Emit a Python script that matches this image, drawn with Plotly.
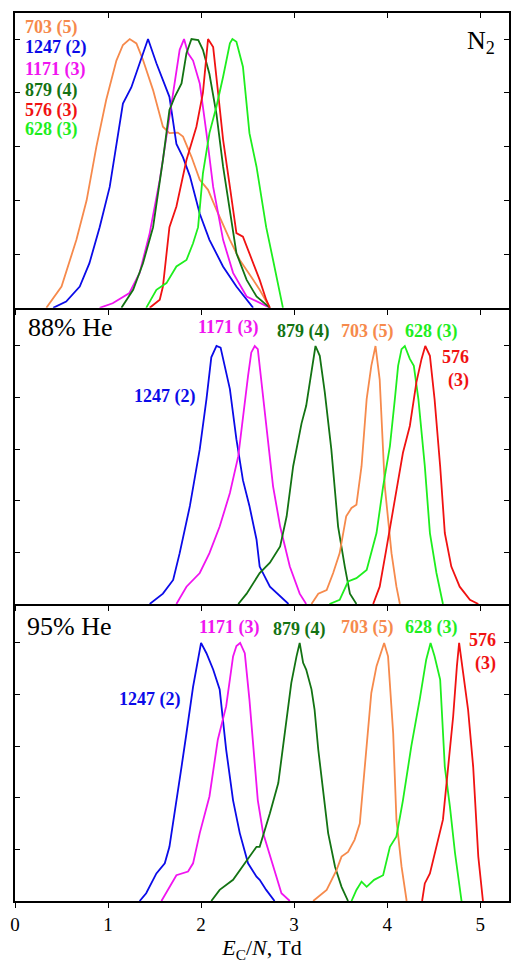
import plotly.graph_objects as go

# ---------------- data (E_C/N in Td, normalized intensity) ----------------
# Top panel: N2
n2_703_x = [0.337, 0.50, 0.66, 0.77, 0.875, 0.98, 1.09, 1.16, 1.233, 1.305, 1.376, 1.484, 1.59, 1.66, 1.75, 1.806, 1.897, 1.986, 2.075, 2.166, 2.31, 2.416, 2.56, 2.63, 2.74]
n2_703_y = [0.0, 0.079, 0.253, 0.40, 0.60, 0.773, 0.92, 0.978, 1.0, 0.984, 0.922, 0.81, 0.674, 0.65, 0.652, 0.637, 0.562, 0.476, 0.439, 0.364, 0.253, 0.178, 0.104, 0.067, 0.0]
n2_1247_x = [0.41, 0.55, 0.696, 0.80, 0.91, 1.018, 1.16, 1.25, 1.34, 1.43, 1.52, 1.59, 1.66, 1.735, 1.806, 1.88, 1.986, 2.09, 2.236, 2.38, 2.52, 2.56]
n2_1247_y = [0.0, 0.023, 0.079, 0.166, 0.30, 0.45, 0.76, 0.82, 0.91, 1.0, 0.91, 0.85, 0.785, 0.61, 0.56, 0.49, 0.35, 0.253, 0.154, 0.079, 0.017, 0.0]
n2_1171_x = [0.91, 1.05, 1.23, 1.34, 1.448, 1.556, 1.70, 1.77, 1.817, 1.86, 1.914, 1.986, 2.058, 2.13, 2.237, 2.344, 2.49, 2.63, 2.74]
n2_1171_y = [0.0, 0.017, 0.055, 0.13, 0.278, 0.476, 0.80, 0.96, 1.0, 0.947, 0.92, 0.835, 0.65, 0.45, 0.253, 0.13, 0.042, 0.017, 0.0]
n2_879_x = [1.144, 1.27, 1.376, 1.484, 1.59, 1.66, 1.717, 1.79, 1.843, 1.897, 1.97, 2.02, 2.09, 2.166, 2.237, 2.31, 2.38, 2.49, 2.596, 2.74]
n2_879_y = [0.0, 0.067, 0.166, 0.30, 0.55, 0.736, 0.785, 0.835, 0.947, 1.0, 0.996, 0.96, 0.87, 0.72, 0.525, 0.352, 0.203, 0.104, 0.042, 0.0]
n2_576_x = [1.448, 1.556, 1.59, 1.66, 1.735, 1.843, 1.95, 2.02, 2.075, 2.13, 2.18, 2.237, 2.31, 2.38, 2.45, 2.52, 2.596, 2.63, 2.70, 2.74]
n2_576_y = [0.0, 0.03, 0.079, 0.30, 0.377, 0.55, 0.674, 0.80, 1.0, 0.97, 0.81, 0.625, 0.45, 0.278, 0.265, 0.203, 0.13, 0.104, 0.03, 0.0]
n2_628_x = [1.41, 1.52, 1.628, 1.735, 1.843, 1.914, 1.968, 2.02, 2.09, 2.166, 2.237, 2.31, 2.337, 2.38, 2.45, 2.52, 2.596, 2.63, 2.70, 2.774, 2.85, 2.88]
n2_628_y = [0.0, 0.067, 0.092, 0.154, 0.178, 0.24, 0.30, 0.50, 0.65, 0.75, 0.86, 0.984, 1.0, 0.99, 0.897, 0.65, 0.525, 0.45, 0.30, 0.178, 0.055, 0.0]

# Middle panel: 88% He
he88_1247_x = [1.448, 1.59, 1.70, 1.77, 1.88, 1.986, 2.058, 2.11, 2.166, 2.21, 2.31, 2.38, 2.45, 2.52, 2.596, 2.63, 2.74, 2.85, 2.94]
he88_1247_y = [0.0, 0.04, 0.093, 0.197, 0.38, 0.60, 0.794, 0.956, 1.0, 0.994, 0.833, 0.638, 0.48, 0.38, 0.25, 0.145, 0.067, 0.028, 0.0]
he88_1171_x = [1.735, 1.843, 1.986, 2.09, 2.20, 2.31, 2.40, 2.45, 2.505, 2.54, 2.577, 2.61, 2.65, 2.70, 2.774, 2.85, 2.954, 3.06, 3.13]
he88_1171_y = [0.0, 0.067, 0.12, 0.197, 0.30, 0.43, 0.573, 0.73, 0.884, 0.975, 1.0, 0.988, 0.86, 0.69, 0.456, 0.30, 0.145, 0.04, 0.0]
he88_879_x = [2.40, 2.49, 2.63, 2.74, 2.85, 2.92, 2.99, 3.08, 3.13, 3.187, 3.23, 3.276, 3.33, 3.40, 3.473, 3.545, 3.60, 3.67]
he88_879_y = [0.0, 0.04, 0.12, 0.16, 0.223, 0.34, 0.534, 0.70, 0.768, 0.898, 1.0, 0.962, 0.82, 0.60, 0.30, 0.145, 0.04, 0.0]
he88_703_x = [3.187, 3.26, 3.35, 3.42, 3.49, 3.56, 3.617, 3.67, 3.725, 3.78, 3.83, 3.875, 3.92, 3.975, 4.047, 4.10, 4.137]
he88_703_y = [0.0, 0.04, 0.054, 0.12, 0.197, 0.34, 0.372, 0.385, 0.534, 0.794, 0.923, 1.0, 0.87, 0.456, 0.197, 0.067, 0.0]
he88_628_x = [3.38, 3.49, 3.58, 3.67, 3.78, 3.886, 3.957, 4.03, 4.083, 4.118, 4.155, 4.19, 4.244, 4.287, 4.336, 4.405, 4.46, 4.53, 4.60]
he88_628_y = [0.0, 0.016, 0.087, 0.10, 0.132, 0.275, 0.456, 0.612, 0.794, 0.923, 0.988, 1.0, 0.95, 0.923, 0.794, 0.534, 0.275, 0.12, 0.0]
he88_576_x = [3.85, 3.92, 3.99, 4.083, 4.17, 4.244, 4.315, 4.37, 4.41, 4.46, 4.51, 4.57, 4.62, 4.69, 4.78, 4.89, 4.98]
he88_576_y = [0.0, 0.067, 0.21, 0.405, 0.586, 0.69, 0.86, 0.95, 1.0, 0.962, 0.794, 0.534, 0.275, 0.145, 0.067, 0.016, 0.0]

# Bottom panel: 95% He
he95_1247_x = [1.34, 1.41, 1.52, 1.61, 1.66, 1.717, 1.79, 1.843, 1.914, 2.0, 2.058, 2.13, 2.20, 2.27, 2.344, 2.416, 2.505, 2.596, 2.63, 2.70, 2.79]
he95_1247_y = [0.0, 0.03, 0.107, 0.146, 0.21, 0.34, 0.52, 0.65, 0.83, 1.0, 0.96, 0.897, 0.82, 0.586, 0.39, 0.263, 0.146, 0.094, 0.082, 0.043, 0.0]
he95_1171_x = [1.574, 1.66, 1.735, 1.86, 1.914, 1.986, 2.09, 2.18, 2.27, 2.344, 2.38, 2.42, 2.47, 2.52, 2.577, 2.61, 2.667, 2.774, 2.864, 2.954]
he95_1171_y = [0.0, 0.055, 0.10, 0.114, 0.146, 0.263, 0.405, 0.625, 0.755, 0.948, 0.988, 1.0, 0.96, 0.78, 0.52, 0.39, 0.263, 0.133, 0.03, 0.0]
he95_879_x = [2.11, 2.20, 2.344, 2.47, 2.596, 2.63, 2.74, 2.83, 2.90, 2.97, 3.026, 3.06, 3.097, 3.13, 3.187, 3.22, 3.26, 3.31, 3.366, 3.44, 3.51, 3.58]
he95_879_y = [0.0, 0.043, 0.082, 0.146, 0.21, 0.21, 0.34, 0.457, 0.65, 0.845, 0.948, 1.0, 0.923, 0.897, 0.82, 0.742, 0.586, 0.43, 0.263, 0.133, 0.055, 0.0]
he95_703_x = [3.205, 3.35, 3.456, 3.51, 3.58, 3.65, 3.706, 3.76, 3.83, 3.886, 3.93, 3.968, 4.01, 4.065, 4.10, 4.155, 4.21]
he95_703_y = [0.0, 0.043, 0.12, 0.172, 0.19, 0.237, 0.30, 0.52, 0.806, 0.91, 0.96, 1.0, 0.948, 0.65, 0.315, 0.133, 0.0]
he95_628_x = [3.617, 3.67, 3.725, 3.78, 3.86, 3.957, 4.03, 4.10, 4.17, 4.26, 4.35, 4.42, 4.467, 4.51, 4.57, 4.62, 4.675, 4.73, 4.80]
he95_628_y = [0.0, 0.043, 0.075, 0.055, 0.082, 0.10, 0.21, 0.25, 0.39, 0.60, 0.78, 0.935, 1.0, 0.948, 0.858, 0.52, 0.366, 0.185, 0.0]
he95_576_x = [4.376, 4.405, 4.46, 4.53, 4.60, 4.656, 4.71, 4.75, 4.774, 4.817, 4.87, 4.925, 4.98, 5.03]
he95_576_y = [0.0, 0.068, 0.107, 0.21, 0.315, 0.52, 0.716, 0.91, 1.0, 0.884, 0.742, 0.52, 0.172, 0.0]

line_names = ["703 (5)", "1247 (2)", "1171 (3)", "879 (4)", "576 (3)", "628 (3)"]
x_ticks = [0, 1, 2, 3, 4, 5]
y_ticks = [0, 0.2, 0.4, 0.6, 0.8, 1.0]
panel_names = ["N<sub>2</sub>", "88% He", "95% He"]

# ---------------- styling ----------------
COL = {
    "703": "#F68A4C",
    "1247": "#0B0BE8",
    "1171": "#F014F0",
    "879": "#137313",
    "576": "#F01212",
    "628": "#1EEE1E",
}
FONT = "Liberation Serif, Times New Roman, serif"
LW = 1.8

fig = go.Figure()

panels = [
    ("y3", "x3", [("703", n2_703_x, n2_703_y), ("1247", n2_1247_x, n2_1247_y), ("1171", n2_1171_x, n2_1171_y),
                  ("879", n2_879_x, n2_879_y), ("576", n2_576_x, n2_576_y), ("628", n2_628_x, n2_628_y)]),
    ("y2", "x2", [("1247", he88_1247_x, he88_1247_y), ("1171", he88_1171_x, he88_1171_y), ("879", he88_879_x, he88_879_y),
                  ("703", he88_703_x, he88_703_y), ("628", he88_628_x, he88_628_y), ("576", he88_576_x, he88_576_y)]),
    ("y", "x", [("1247", he95_1247_x, he95_1247_y), ("1171", he95_1171_x, he95_1171_y), ("879", he95_879_x, he95_879_y),
                ("703", he95_703_x, he95_703_y), ("628", he95_628_x, he95_628_y), ("576", he95_576_x, he95_576_y)]),
]
for ya, xa, series in panels:
    for key, xs, ys in series:
        fig.add_trace(go.Scatter(x=xs, y=ys, mode="lines", xaxis=xa, yaxis=ya,
                                 line=dict(color=COL[key], width=LW), showlegend=False,
                                 hoverinfo="skip"))

XR = [0, 5.31]
common_x = dict(range=XR, tickvals=x_ticks, showgrid=False, zeroline=False,
                showline=True, linecolor="black", linewidth=1.5,
                ticks="outside", ticklen=5, tickcolor="black", tickwidth=1.3)
common_y = dict(tickvals=y_ticks, showgrid=False, zeroline=False,
                showline=True, linecolor="black", linewidth=1.5, mirror="ticks",
                ticks="inside", ticklen=5, tickcolor="black", tickwidth=1.3,
                showticklabels=False)

d1 = [0.0, 0.3345]
d2 = [0.3345, 0.668]
d3 = [0.668, 1.0]

# page body has an 8px margin: figure is sized so page fits 521x978
fig.update_layout(
    width=505, height=962,
    margin=dict(l=7, r=4, t=5, b=69, autoexpand=False),
    paper_bgcolor="white", plot_bgcolor="white",
    font=dict(family=FONT, color="black"),
    xaxis=dict(common_x, anchor="y", showticklabels=True,
               tickfont=dict(size=19, family=FONT),
               title=dict(text="<i>E</i><sub>C</sub>/<i>N</i>, Td", font=dict(size=22, family=FONT), standoff=6)),
    xaxis2=dict(common_x, anchor="y2", matches="x", showticklabels=False),
    xaxis3=dict(common_x, anchor="y3", matches="x", showticklabels=False, mirror=True),
    xaxis4=dict(range=XR, tickvals=x_ticks, overlaying="x3", side="top", anchor="y3",
                showline=False, showgrid=False, zeroline=False, showticklabels=False,
                ticks="inside", ticklen=5, tickcolor="black", tickwidth=1.3),
    yaxis=dict(common_y, domain=d1, range=[0, 1.151], anchor="x"),
    yaxis2=dict(common_y, domain=d2, range=[0, 1.148], anchor="x2"),
    yaxis3=dict(common_y, domain=d3, range=[0, 1.097], anchor="x3"),
)
# invisible trace to activate xaxis4 (top ticks of the upper panel)
fig.add_trace(go.Scatter(x=[None], y=[None], xaxis="x4", yaxis="y3", showlegend=False, hoverinfo="skip"))

ann = []
LBL = 18
# top panel stacked labels
top_keys = ["703", "1247", "1171", "879", "576", "628"]
top_y = [1.042, 0.968, 0.888, 0.810, 0.736, 0.662]
for k, name, yy in zip(top_keys, line_names, top_y):
    ann.append(dict(x=0.083, y=yy, xref="x3", yref="y3", text="<b>%s</b>" % name, showarrow=False,
                    xanchor="left", yanchor="middle", font=dict(size=LBL, color=COL[k], family=FONT)))
ann.append(dict(x=5.18, y=0.99, xref="x3", yref="y3", text=panel_names[0], showarrow=False,
                xanchor="right", yanchor="middle", font=dict(size=26, color="black", family=FONT)))

# middle panel
ann.append(dict(x=0.115, y=1.07, xref="x2", yref="y2", text=panel_names[1], showarrow=False,
                xanchor="left", yanchor="middle", font=dict(size=26, color="black", family=FONT)))
mid = [("1171", "1171 (3)", 2.30, 1.07), ("1247", "1247 (2)", 1.61, 0.805), ("879", "879 (4)", 3.10, 1.058),
       ("703", "703 (5)", 3.79, 1.058), ("628", "628 (3)", 4.48, 1.058)]
for k, t, xx, yy in mid:
    ann.append(dict(x=xx, y=yy, xref="x2", yref="y2", text="<b>%s</b>" % t, showarrow=False,
                    xanchor="center", yanchor="middle", font=dict(size=LBL, color=COL[k], family=FONT)))
ann.append(dict(x=4.90, y=0.912, xref="x2", yref="y2", text="<b>576</b><br><b>(3)</b>", showarrow=False,
                xanchor="right", yanchor="middle", align="right", font=dict(size=LBL, color=COL["576"], family=FONT)))

# bottom panel
ann.append(dict(x=0.104, y=1.064, xref="x", yref="y", text=panel_names[2], showarrow=False,
                xanchor="left", yanchor="middle", font=dict(size=26, color="black", family=FONT)))
bot = [("1171", "1171 (3)", 2.31, 1.06), ("1247", "1247 (2)", 1.45, 0.78), ("879", "879 (4)", 3.06, 1.052),
       ("703", "703 (5)", 3.79, 1.06), ("628", "628 (3)", 4.48, 1.06)]
for k, t, xx, yy in bot:
    ann.append(dict(x=xx, y=yy, xref="x", yref="y", text="<b>%s</b>" % t, showarrow=False,
                    xanchor="center", yanchor="middle", font=dict(size=LBL, color=COL[k], family=FONT)))
ann.append(dict(x=5.19, y=0.965, xref="x", yref="y", text="<b>576</b><br><b>(3)</b>", showarrow=False,
                xanchor="right", yanchor="middle", align="right", font=dict(size=LBL, color=COL["576"], family=FONT)))

fig.update_layout(annotations=ann)
fig.write_html("out.html")
